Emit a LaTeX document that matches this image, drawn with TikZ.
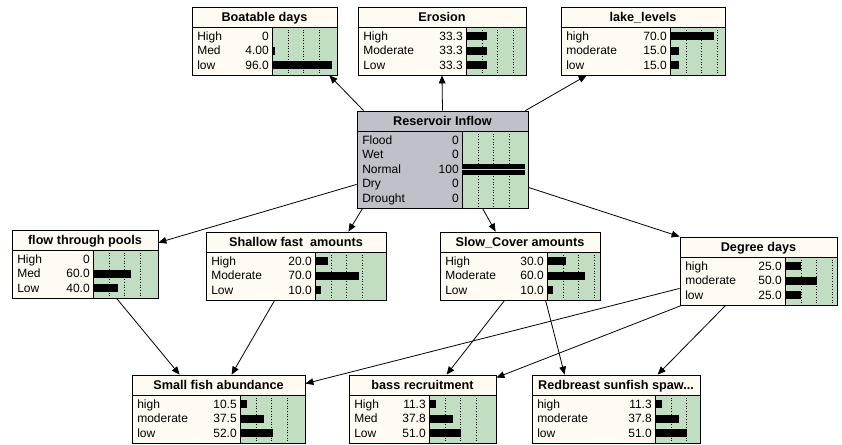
\documentclass[tikz,border=0pt]{standalone}
\usepackage{fontspec}
\setmainfont{Liberation Sans}
\usetikzlibrary{arrows.meta,calc,fit}

\definecolor{cream}{RGB}{255,250,242}
\definecolor{netgreen}{RGB}{194,222,194}
\definecolor{resgray}{RGB}{192,192,200}

\tikzset{
  boxline/.style={black, line width=0.6pt},
  gridline/.style={black, line width=0.5pt, dash pattern=on 0.8pt off 1.2pt},
  titletext/.style={font=\fontsize{9.5}{11}\selectfont\bfseries, inner sep=0pt},
  rowtext/.style={font=\fontsize{9}{11}\selectfont, inner sep=0pt},
  link/.style={black, line width=0.6pt, -{Triangle[length=6pt,width=5pt]}},
}

% #1 fill, #2 name, #3-#6 corners, #7 left of bars, #8 title, #9 states
\newcommand{\netnode}[9][cream]{%
  \fill[#1] (#3,#4) rectangle (#5,#6);
  \fill[netgreen] (#7,#4+20) rectangle (#5,#6);
  \begin{scope}
    \clip (#7,#4+20) rectangle (#5,#6);
    \foreach \g in {16,31.5,47} \draw[gridline] (#7+\g,#4+20) -- (#7+\g,#6);
    \foreach \lab/\val/\pct [count=\k] in {#9}
      \fill (#7,#4+25+14.5*\k-14.5) rectangle (#7+0.63*\pct,#4+33+14.5*\k-14.5);
  \end{scope}
  \foreach \lab/\val/\pct [count=\k] in {#9} {
    \node[rowtext, anchor=base west] (#2-s\k) at (#3+5,#4+33+14.5*\k-14.5) {\lab};
    \node[rowtext, anchor=base east] (#2-v\k) at (#7-3,#4+33+14.5*\k-14.5) {\val};
  }
  \node[titletext, anchor=base] (#2-t) at ({(#3+#5)/2},#4+14.5) {#8};
  \draw[boxline] (#3,#4+20) -- (#5,#4+20);
  \draw[boxline] (#7,#4+20) -- (#7,#6);
  \node[draw, boxline, fit={(#3,#4) (#5,#6)}, inner sep=0pt] (#2) {};
}

\begin{document}
\begin{tikzpicture}[x=0.75pt, y=-0.75pt]
\useasboundingbox (0,0) rectangle (842,444);
\fill[white] (0,0) rectangle (842,444);

%top row
\netnode{boat}{192}{7}{337}{75}{272}{Boatable days}{High/0/0, Med/4.00/4, low/96.0/96}
\netnode{ero}{358}{7}{526}{75}{466}{Erosion}{High/33.3/33.3, Moderate/33.3/33.3, Low/33.3/33.3}
\netnode{lake}{561}{7}{725}{75}{670}{lake\_levels}{high/70.0/70, moderate/15.0/15, low/15.0/15}

%reservoir
\netnode[resgray]{res}{357}{111}{528}{208}{462}{Reservoir Inflow}{Flood/0/0, Wet/0/0, Normal/100/0, Dry/0/0, Drought/0/0}
\fill (462,164) rectangle (525,175);
\draw[netgreen, line width=0.6pt] (462,169.5) -- (525,169.5);

%middle row
\netnode{flow}{12}{230}{158}{298}{93}{flow through pools}{High/0/0, Med/60.0/60, Low/40.0/40}
\netnode{shal}{206}{232}{386}{300}{315}{Shallow fast\ \ amounts}{High/20.0/20, Moderate/70.0/70, Low/10.0/10}
\netnode{slow}{440}{232}{600}{300}{547}{Slow\_Cover amounts}{High/30.0/30, Moderate/60.0/60, Low/10.0/10}
\netnode{deg}{680}{237}{837}{305}{785}{Degree days}{high/25.0/25, moderate/50.0/50, low/25.0/25}

%bottom row
\netnode{small}{132}{375}{305}{443}{240}{Small fish abundance}{high/10.5/10.5, moderate/37.5/37.5, low/52.0/52}
\netnode{bass}{349}{375}{496}{443}{429}{bass recruitment}{High/11.3/11.3, Med/37.8/37.8, Low/51.0/51}
\netnode{red}{532}{375}{700}{443}{655}{Redbreast sunfish spaw...}{high/11.3/11.3, moderate/37.8/37.8, low/51.0/51}

%links
\draw[link] ($(res.north west)+(7,0)$) -- ($(boat.south east)+(-8,0)$);
\draw[link] (res.north) -- (ero.south);
\draw[link] ($(res.north east)+(-3,0)$) -- ($(lake.south west)+(26,0)$);
\draw[link] ($(res.south west)+(0,-24)$) -- ($(flow.north east)+(0,13)$);
\draw[link] ($(res.south west)+(6,0)$) -- ($(shal.north east)+(-38,0)$);
\draw[link] ($(res.south)+(40,0)$) -- ($(slow.north west)+(56,0)$);
\draw[link] ($(res.south east)+(0,-21)$) -- (deg.north west);

\draw[link] ($(flow.south west)+(105,0)$) -- ($(small.north west)+(48,0)$);
\draw[link] ($(shal.south west)+(69,0)$) -- ($(small.north west)+(100,0)$);
\draw[link] ($(deg.south west)+(0,-17)$) -- ($(small.north east)+(0,9)$);
\draw[link] ($(deg.south west)+(2,0)$) -- ($(bass.north east)+(0,3)$);
\draw[link] ($(deg.south west)+(46,0)$) -- ($(red.north west)+(126,0)$);
\draw[link] ($(slow.south west)+(65,0)$) -- ($(bass.north west)+(98,0)$);
\draw[link] ($(slow.south west)+(106,0)$) -- ($(red.north west)+(33,0)$);

\end{tikzpicture}
\end{document}
